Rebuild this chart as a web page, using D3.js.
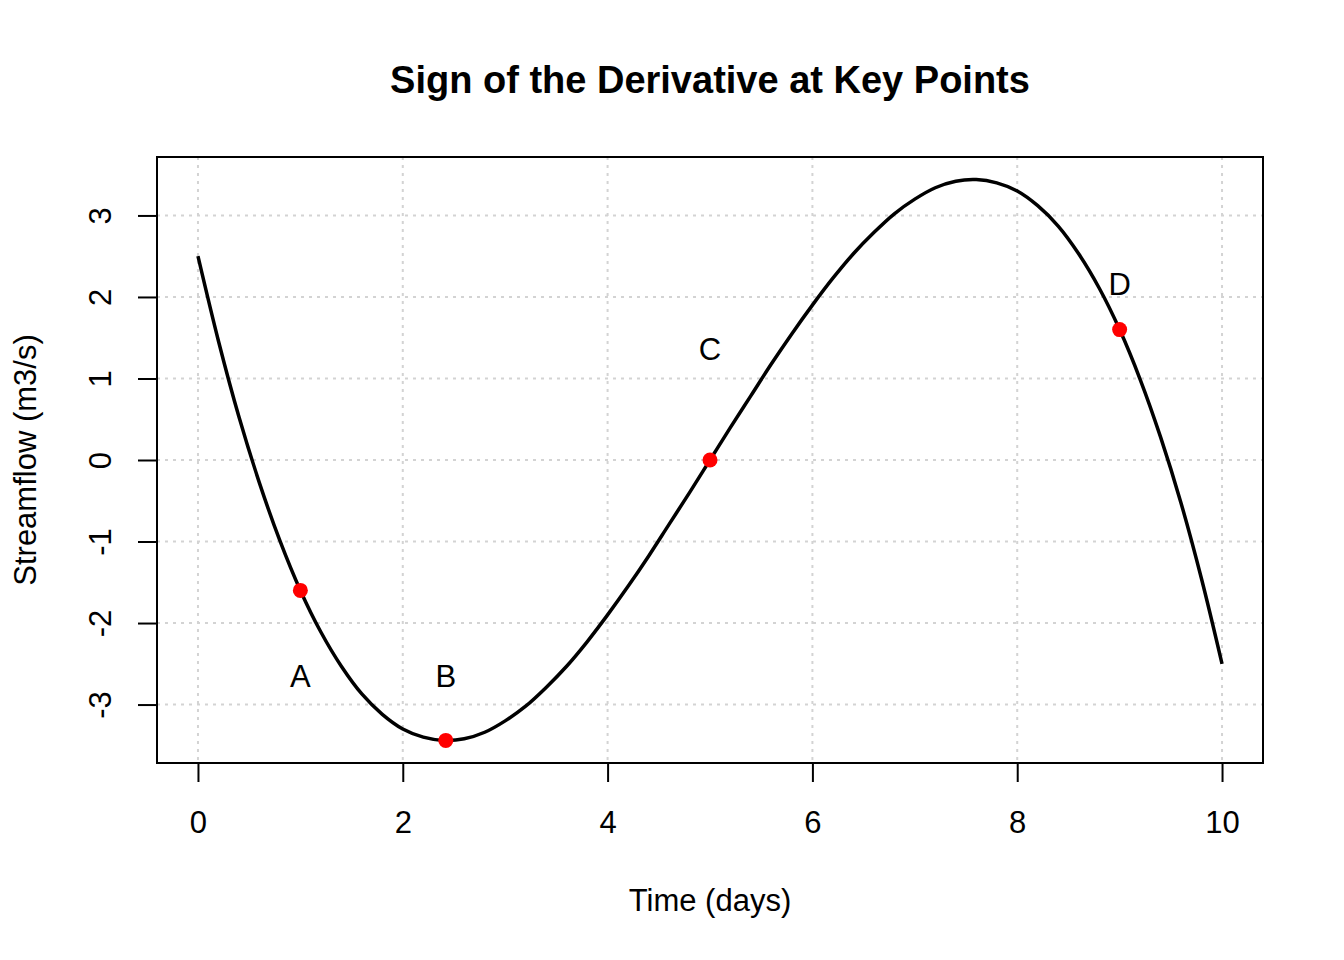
<!DOCTYPE html>
<html>
<head>
<meta charset="utf-8">
<script src="https://cdn.jsdelivr.net/npm/d3@7"></script>
<style>
  body { margin: 0; background: #fff; }
  svg text { font-family: "Liberation Sans", Arial, sans-serif; fill: #000; }
</style>
</head>
<body>
<div id="chart"></div>
<script>
// curve values (time in days, streamflow in m3/s)
const timeDays = [0, 0.2, 0.4, 0.6, 0.8, 1, 1.2, 1.4, 1.6, 1.8, 2, 2.2, 2.4, 2.6, 2.8, 3, 3.2, 3.4, 3.6, 3.8, 4,
  4.2, 4.4, 4.6, 4.8, 5, 5.2, 5.4, 5.6, 5.8, 6, 6.2, 6.4, 6.6, 6.8, 7, 7.2, 7.4, 7.6, 7.8, 8,
  8.2, 8.4, 8.6, 8.8, 9, 9.2, 9.4, 9.6, 9.8, 10];
const streamflow = [2.5, 1.46, 0.53, -0.28, -0.99, -1.6, -2.11, -2.53, -2.87, -3.12, -3.3,
  -3.4, -3.44, -3.42, -3.34, -3.2, -3.02, -2.79, -2.53, -2.23, -1.9,
  -1.55, -1.18, -0.79, -0.4, 0, 0.4, 0.79, 1.18, 1.55, 1.9,
  2.23, 2.53, 2.79, 3.02, 3.2, 3.34, 3.42, 3.44, 3.4, 3.3,
  3.12, 2.87, 2.53, 2.11, 1.6, 0.99, 0.28, -0.53, -1.46, -2.5];

// key points and their labels
const keyNames = ['A', 'B', 'C', 'D'];
const keyTime = [1, 2.42, 5, 9];
const keyFlow = [-1.6, -3.44, 0, 1.6];
const keyLabelFlow = [-2.65, -2.65, 1.35, 2.15];

const xTicks = [0, 2, 4, 6, 8, 10];
const yTicks = [-3, -2, -1, 0, 1, 2, 3];

const W = 1344, H = 960;
const margin = { top: 157, right: 81, bottom: 197, left: 157 };
const plotW = W - margin.left - margin.right;
const plotH = H - margin.top - margin.bottom;
const FONT = '"Liberation Sans", Arial, sans-serif';

const svg = d3.select('#chart').append('svg')
  .attr('width', W)
  .attr('height', H);

const g = svg.append('g')
  .attr('transform', `translate(${margin.left},${margin.top})`);

// R-style 4% padding on each side
const xScale = d3.scaleLinear().domain([-0.4, 10.4]).range([0, plotW]);
const yScale = d3.scaleLinear().domain([-3.717, 3.717]).range([plotH, 0]);

// dotted grid
g.append('g').selectAll('line')
  .data(xTicks)
  .join('line')
  .attr('x1', d => xScale(d)).attr('x2', d => xScale(d))
  .attr('y1', 0).attr('y2', plotH)
  .attr('stroke', '#d3d3d3').attr('stroke-width', 2)
  .attr('stroke-dasharray', '3,5');

g.append('g').selectAll('line')
  .data(yTicks)
  .join('line')
  .attr('x1', 0).attr('x2', plotW)
  .attr('y1', d => yScale(d)).attr('y2', d => yScale(d))
  .attr('stroke', '#d3d3d3').attr('stroke-width', 2)
  .attr('stroke-dasharray', '3,5');

// axes (R prints a plain hyphen for negatives)
const xAxis = g.append('g')
  .attr('transform', `translate(0,${plotH})`)
  .call(d3.axisBottom(xScale).tickValues(xTicks).tickFormat(d => String(d))
    .tickSize(19).tickPadding(29).tickSizeOuter(0));

const yAxis = g.append('g')
  .call(d3.axisLeft(yScale).tickValues(yTicks).tickFormat(d => String(d))
    .tickSize(19).tickPadding(10).tickSizeOuter(0));

[xAxis, yAxis].forEach(ax => {
  ax.attr('font-size', null).attr('font-family', null);
  ax.select('.domain').remove();
  ax.selectAll('.tick line').attr('stroke', '#000').attr('stroke-width', 2);
  ax.selectAll('.tick text')
    .style('font-size', '31px')
    .style('font-family', FONT)
    .attr('fill', '#000');
});

yAxis.selectAll('.tick text')
  .attr('text-anchor', 'middle')
  .attr('dy', null)
  .attr('transform', 'translate(-57,0) rotate(-90)')
  .attr('x', 0)
  .attr('y', 0)
  .attr('dominant-baseline', 'central');

// box
g.append('rect')
  .attr('width', plotW).attr('height', plotH)
  .attr('fill', 'none').attr('stroke', '#000').attr('stroke-width', 2);

// curve
const line = d3.line()
  .x((d, i) => xScale(timeDays[i]))
  .y(d => yScale(d))
  .curve(d3.curveCatmullRom);

g.append('path')
  .datum(streamflow)
  .attr('d', line)
  .attr('fill', 'none')
  .attr('stroke', '#000')
  .attr('stroke-width', 3.5);

// key points
g.append('g').selectAll('circle')
  .data(keyNames)
  .join('circle')
  .attr('cx', (d, i) => xScale(keyTime[i]))
  .attr('cy', (d, i) => yScale(keyFlow[i]))
  .attr('r', 7.5)
  .attr('fill', '#ff0000');

g.append('g').selectAll('text')
  .data(keyNames)
  .join('text')
  .attr('x', (d, i) => xScale(keyTime[i]))
  .attr('y', (d, i) => yScale(keyLabelFlow[i]))
  .attr('text-anchor', 'middle')
  .attr('dominant-baseline', 'central')
  .style('font-size', '31px')
  .text(d => d);

// title and axis labels
svg.append('text')
  .attr('x', margin.left + plotW / 2)
  .attr('y', 80)
  .attr('text-anchor', 'middle')
  .attr('dominant-baseline', 'central')
  .style('font-size', '38px')
  .style('font-weight', 'bold')
  .text('Sign of the Derivative at Key Points');

svg.append('text')
  .attr('x', margin.left + plotW / 2)
  .attr('y', 900)
  .attr('text-anchor', 'middle')
  .attr('dominant-baseline', 'central')
  .style('font-size', '31px')
  .text('Time (days)');

svg.append('text')
  .attr('transform', `translate(25,${margin.top + plotH / 2}) rotate(-90)`)
  .attr('text-anchor', 'middle')
  .attr('dominant-baseline', 'central')
  .style('font-size', '31px')
  .text('Streamflow (m3/s)');
</script>
</body>
</html>
